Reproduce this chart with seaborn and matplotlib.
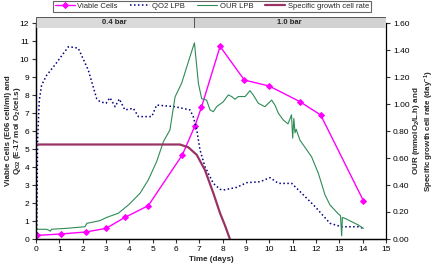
import numpy as np
import pandas as pd
import matplotlib
matplotlib.use("Agg")
import matplotlib.pyplot as plt
from matplotlib.patches import Rectangle
import seaborn as sns

# --------------------------
# data
# --------------------------
# Viable cells (E06 cell/ml), left axis
viable_t = [0.06, 1.07, 2.14, 3.0, 3.81, 4.81, 6.27, 6.81, 7.09, 7.89, 8.93, 9.99, 11.31, 12.2, 14.03]
viable_y = [0.2, 0.28, 0.39, 0.59, 1.2, 1.85, 4.67, 6.28, 7.32, 10.7, 8.83, 8.5, 7.63, 6.89, 2.13]

# QO2 LPB (E-17 mol O2/cel.s), left axis
qo2_t = [0.03, 0.07, 0.14, 0.24, 0.46, 0.81, 1.17, 1.39, 1.6, 1.81, 2.24, 2.6, 2.74, 3.0, 3.17,
         3.39, 3.57, 3.81, 4.17, 4.39, 4.96, 5.17, 5.96, 6.6, 6.74, 6.89, 7.03, 7.24, 7.6, 7.89,
         8.03, 8.6, 9.03, 9.6, 10.03, 10.39, 10.96, 11.39, 11.96, 12.6, 13.1, 13.81, 14.03]
qo2_y = [0.3, 5.5, 7.7, 8.55, 9.1, 9.67, 10.3, 10.68, 10.65, 10.6, 9.39, 7.8, 7.63, 7.54, 7.85,
         7.35, 7.78, 7.17, 7.26, 6.8, 6.8, 7.44, 7.35, 7.17, 6.8, 6.06, 4.94, 4.02, 3.09, 2.76,
         2.72, 2.87, 3.13, 3.18, 3.41, 3.09, 3.09, 2.54, 1.8, 0.87, 0.68, 0.68, 0.59]

# OUR LPB (mmolO2/L.h), right axis
our_t = [0.0, 0.46, 0.55, 0.62, 0.66, 1.31, 2.1, 2.18, 2.74, 3.03, 3.53, 3.96, 4.46, 4.81, 5.17,
         5.46, 5.74, 5.96, 6.24, 6.6, 6.79, 6.96, 7.1, 7.31, 7.46, 7.6, 7.74, 8.03, 8.24, 8.39,
         8.53, 8.67, 8.96, 9.17, 9.31, 9.53, 9.81, 10.1, 10.24, 10.39, 10.6, 10.8, 10.95, 11.0,
         11.05, 11.1, 11.15, 11.31, 11.81, 12.1, 12.39, 12.6, 12.96, 13.05, 13.1, 13.13, 13.24,
         13.81, 14.03]
our_y = [0.072, 0.072, 0.065, 0.058, 0.072, 0.079, 0.091, 0.116, 0.136, 0.160, 0.191, 0.252, 0.339,
         0.437, 0.573, 0.721, 0.808, 1.053, 1.153, 1.351, 1.453, 1.153, 1.040, 1.029, 0.956, 0.943,
         0.980, 1.017, 1.067, 1.055, 1.035, 1.055, 1.055, 1.099, 1.067, 1.005, 0.980, 1.029, 0.992,
         0.931, 0.881, 0.853, 0.92, 0.747, 0.893, 0.787, 0.813, 0.733, 0.609, 0.487, 0.325, 0.252,
         0.185, 0.173, 0.023, 0.160, 0.153, 0.104, 0.079]

# Specific growth cell rate (day-1), right axis
mu_t = [0.0, 6.17, 6.53, 6.89, 7.24, 7.6, 7.89, 8.1, 8.31]
mu_y = [0.70, 0.70, 0.679, 0.623, 0.511, 0.34, 0.19, 0.10, 0.0]

# pressure phases shown in the top band
phase_labels = ["0.4 bar", "1.0 bar"]
phase_edges = [0.0, 6.75, 15.0]

sns.set_style("ticks")
plt.rcParams['font.family'] = ['Liberation Sans', 'DejaVu Sans']
plt.rcParams['mathtext.fontset'] = 'custom'
plt.rcParams['mathtext.rm'] = 'Liberation Sans:bold'
plt.rcParams['mathtext.it'] = 'Liberation Sans:bold'
plt.rcParams['mathtext.bf'] = 'Liberation Sans:bold'
fs_tick = 6
fs_lab = 5.8
fs_leg = 5.5

fig = plt.figure(figsize=(4.35, 2.66), dpi=100)
ax = fig.add_axes([36/435, 27/266, 350/435, 216/266])
ax2 = ax.twinx()

sns.lineplot(x=viable_t, y=viable_y, ax=ax, color='#FF00FF', lw=1.0, marker='D', markersize=3.0,
             markeredgecolor='#FF00FF', label='Viable Cells', legend=False)
sns.lineplot(x=qo2_t, y=qo2_y, ax=ax, color='#000080', lw=1.1, linestyle=(0, (1, 1.6)),
             label='QO2 LPB', sort=False, legend=False)
sns.lineplot(x=our_t, y=our_y, ax=ax2, color='#2E8B57', lw=0.8, label='OUR LPB', sort=False, legend=False)
sns.lineplot(x=mu_t, y=mu_y, ax=ax2, color='#993366', lw=1.6, label='Specific growth cell rate', legend=False)

ax.set_xlim(0, 15)
ax.set_ylim(0, 12)
ax2.set_ylim(0, 1.6)
ax.set_xticks(range(0, 16))
ax.set_yticks(range(0, 13))
ax2.set_yticks(np.arange(0, 1.61, 0.2))
ax2.set_yticklabels([f"{v:.2f}" for v in np.arange(0, 1.61, 0.2)])

for a in (ax, ax2):
    a.tick_params(labelsize=fs_tick, length=3, width=0.8, pad=2, colors='#333333', labelcolor='black')
    a.spines['top'].set_visible(False)
    for s in a.spines.values():
        s.set_linewidth(0.9)
        s.set_color('black')
ax.spines['right'].set_visible(False)

ax.set_xlabel("Time (days)", fontsize=fs_lab, fontweight='bold', labelpad=2)
ax.set_ylabel("Viable Cells (E06 cell/ml) and\nQ$_{O2}$ (E-17 mol O$_2$/cel.s)",
              fontsize=fs_lab, fontweight='bold', linespacing=1.0)
ax.yaxis.set_label_coords(-0.037, 0.5)
ax2.set_ylabel("OUR (mmolO$_2$/L.h) and\nSpecific growth cell rate (day$^{-1}$)",
               fontsize=fs_lab, fontweight='bold', linespacing=1.15)
ax2.yaxis.set_label_coords(1.07, 0.5)

# top band with the pressure phases
band = fig.add_axes([36/435, (266-28.3)/266, 350/435, 11/266])
band.set_xlim(0, 15)
band.set_ylim(0, 1)
band.axis('off')
for i, lab in enumerate(phase_labels):
    x0, x1 = phase_edges[i], phase_edges[i+1]
    band.add_patch(Rectangle((x0, 0), x1 - x0, 1, facecolor='#dadada' if i == 0 else '#d2d2d2',
                             edgecolor='#555555', lw=0.7))
    band.text((x0 + x1) / 2, 0.5, lab, ha='center', va='center', fontsize=fs_leg, fontweight='bold')

handles = ax.get_lines() + ax2.get_lines()
labels = [h.get_label() for h in handles]
leg = fig.legend(handles, labels, loc='center', bbox_to_anchor=(212/435, 1 - 6.5/266), ncol=4,
                 fontsize=fs_leg, frameon=True, fancybox=False, edgecolor='#404040', handlelength=2.6,
                 handletextpad=0.3, columnspacing=1.6, borderpad=0.3, markerscale=1.0)
leg.get_frame().set_linewidth(0.8)

fig.savefig("out.png", dpi=100)
